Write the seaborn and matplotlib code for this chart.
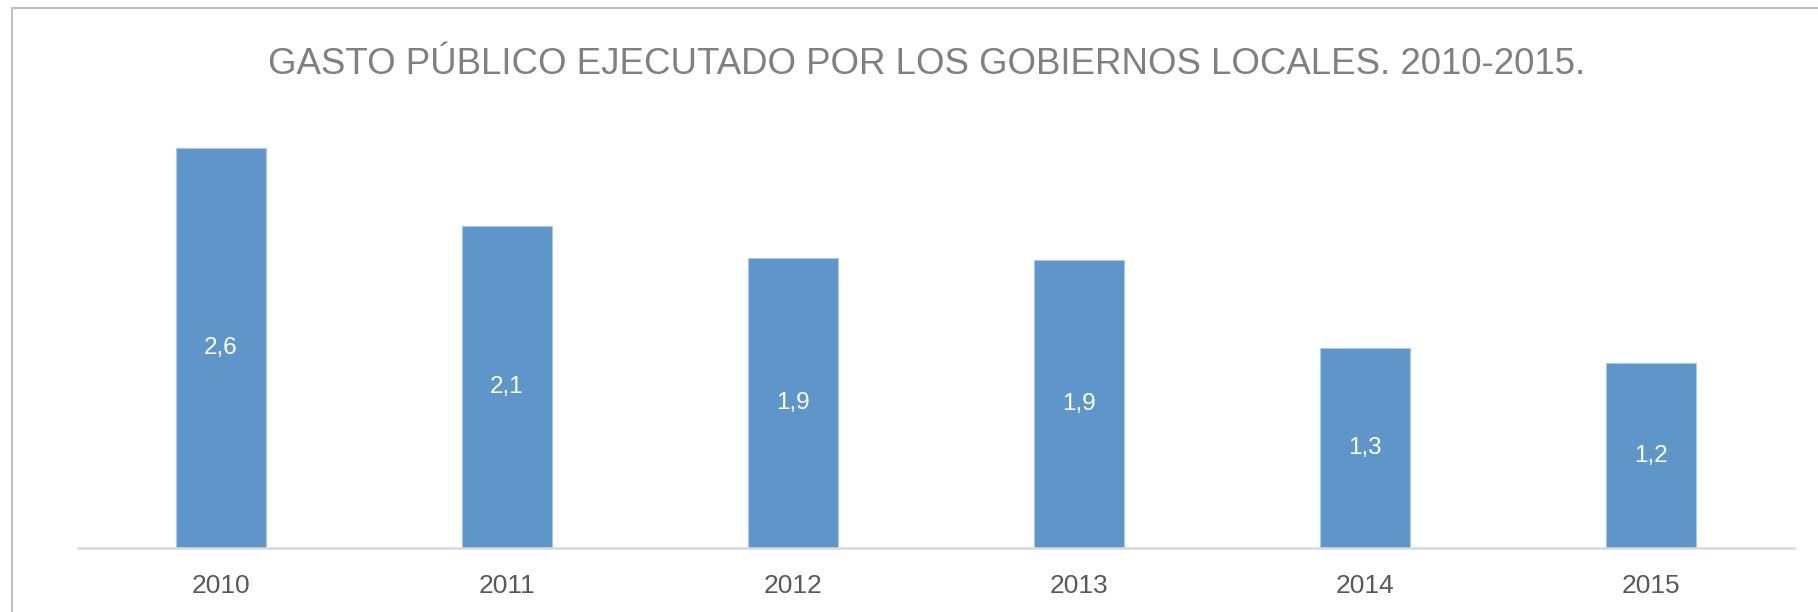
import matplotlib
matplotlib.use("Agg")
import matplotlib.pyplot as plt
import seaborn as sns
from matplotlib.patches import Rectangle

# datos
years = ["2010", "2011", "2012", "2013", "2014", "2015"]
gasto = [2.6, 2.09, 1.88, 1.87, 1.30, 1.20]
etiquetas = ["2,6", "2,1", "1,9", "1,9", "1,3", "1,2"]
titulo = "GASTO PÚBLICO EJECUTADO POR LOS GOBIERNOS LOCALES. 2010-2015."

sns.set_style("white")
plt.rcParams["font.family"] = ["Liberation Sans", "DejaVu Sans"]

W, H = 1818, 612
fig = plt.figure(figsize=(W / 100, H / 100), dpi=100)
ax = fig.add_axes([78 / W, 1 - 548 / H, (1794 - 78) / W, (548 - 86) / H])

sns.barplot(x=years, y=gasto, color="#5F96CA", width=0.318, saturation=1,
            edgecolor="#A9C8E8", linewidth=0.8, ax=ax)
ax.bar_label(ax.containers[0], labels=etiquetas, label_type="center",
             color="white", fontsize=17.5)

ax.set_ylim(0, 3)
ax.set_yticks([])
ax.set_ylabel("")
ax.set_xlabel("")
for s in ["top", "right", "left"]:
    ax.spines[s].set_visible(False)
ax.spines["bottom"].set_color("#D9D9D9")
ax.spines["bottom"].set_linewidth(1.8)
ax.tick_params(axis="x", length=0, pad=19, labelsize=19, labelcolor="#595959")

fig.text(927 / W, 1 - 74 / H, titulo, ha="center", va="baseline",
         fontsize=26.4, color="#808080")

# marco del gráfico
fig.patches.append(Rectangle((12 / W, -0.2), 1.2, 1.2 - 8 / H, transform=fig.transFigure,
                             fill=False, edgecolor="#BFBFBF", linewidth=1.5))

fig.savefig("out.png", dpi=100)
